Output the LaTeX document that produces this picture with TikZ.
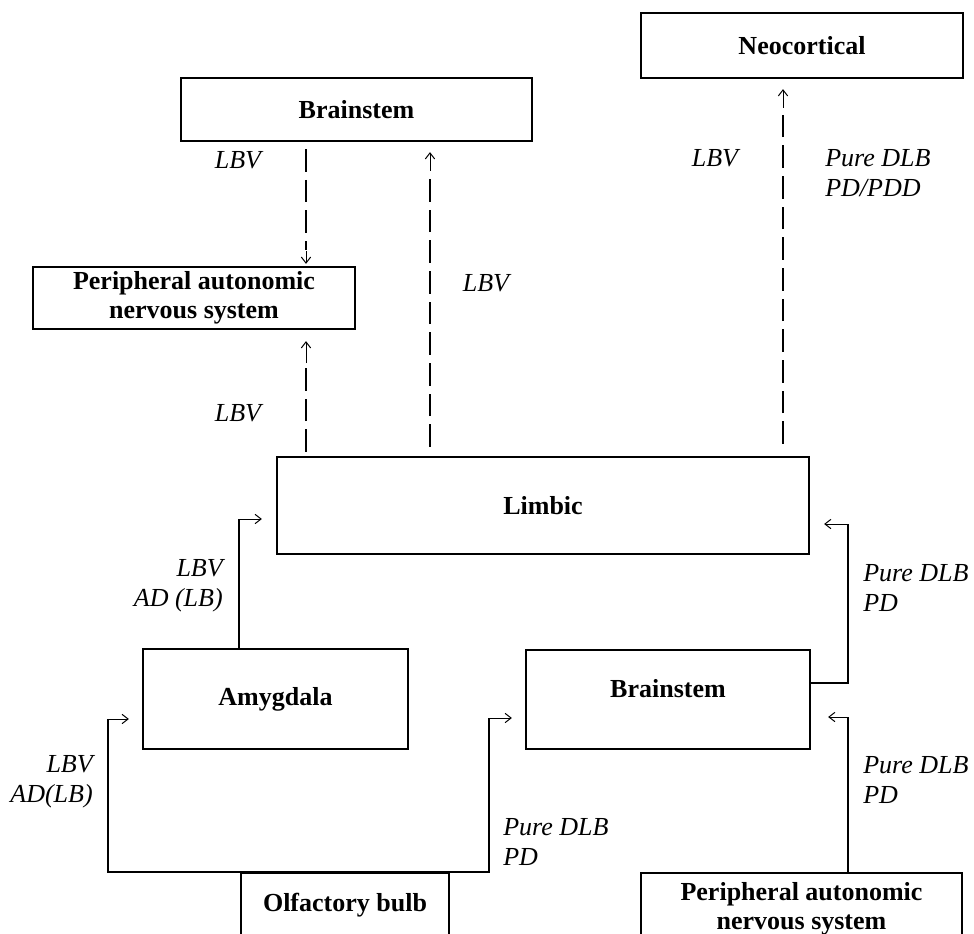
\documentclass[tikz,border=0pt]{standalone}
\usepackage{fontspec}
\setmainfont{Liberation Serif}
\usetikzlibrary{arrows.meta,calc}
\begin{document}
\begin{tikzpicture}[x=0.75pt,y=-0.75pt,
 box/.style={draw, line width=1.7pt, font=\bfseries\fontsize{19.5pt}{22pt}\selectfont, align=center, inner sep=0pt},
 lbl/.style={font=\itshape\fontsize{19.5pt}{22.5pt}\selectfont, inner sep=0pt},
 dashline/.style={line width=1.5pt, dash pattern=on 17pt off 6pt},
 solidline/.style={line width=1.5pt},
 thinarrow/.style={line width=0.75pt, -{Straight Barb[length=4.5pt,width=7pt]}}]
\useasboundingbox (0,0) rectangle (974,934);
\clip (0,0) rectangle (974,934);
% boxes
\node[box, minimum width=241.5pt, minimum height=48.75pt] (neo) at (802,45.5) {Neocortical};
\node[box, minimum width=263.25pt, minimum height=47.25pt] (bs1) at (356.5,109.5) {Brainstem};
\node[box, minimum width=241.5pt, minimum height=46.5pt] (pans1) at (194,298) {Peripheral autonomic\\nervous system};
\node[box, minimum width=399pt, minimum height=72.75pt] (limbic) at (543,505.5) {Limbic};
\node[box, minimum width=198.75pt, minimum height=75pt] (amy) at (275.5,699) {Amygdala};
\node[box, minimum width=213pt, minimum height=74.25pt, text depth=17pt] (bs2) at (668,699.5) {Brainstem};
\node[box, minimum width=156pt, minimum height=65.25pt, text depth=21.75pt] (olf) at (345,916.5) {Olfactory bulb};
\node[box, minimum width=240.75pt, minimum height=54pt] (pans2) at (801.5,909) {Peripheral autonomic\\nervous system};
% dashed connectors
\coordinate (a1) at (306,250);
\draw[dashline] ($(bs1.south -| a1)+(0,7)$) -- (a1);
\draw[thinarrow] ($(a1)+(0,1)$) -- ($(pans1.north -| a1)+(0,-2)$);
\coordinate (a2) at (306,367);
\draw[dashline] ($(limbic.north -| a2)+(0,-4)$) -- (a2);
\draw[thinarrow] ($(a2)+(0,-4)$) -- ($(pans1.south -| a2)+(0,11)$);
\coordinate (a3) at (430,177);
\draw[dashline] ($(limbic.north -| a3)+(0,-9)$) -- (a3);
\draw[thinarrow] ($(a3)+(0,-6)$) -- ($(bs1.south -| a3)+(0,10)$);
\coordinate (a4) at (783,114);
\draw[dashline] ($(limbic.north -| a4)+(0,-12)$) -- (a4);
\draw[thinarrow] ($(a4)+(0,-6)$) -- ($(neo.south -| a4)+(0,10)$);
% solid connectors
\coordinate (b1) at (239,519);
\draw[solidline] (amy.north -| b1) -- (b1);
\draw[thinarrow] (b1) -- ($(limbic.west |- b1)+(-14,0)$);
\coordinate (b2) at (848,524);
\draw[solidline] ($(bs2.east)+(0,-16.5)$) -| (b2);
\draw[thinarrow] (b2) -- ($(limbic.east |- b2)+(14,0)$);
\coordinate (b3) at (108,719);
\coordinate (b4) at (489,718);
\draw[solidline] (b3) |- (olf.north) -| (b4);
\draw[thinarrow] (b3) -- ($(amy.west |- b3)+(-13,0)$);
\draw[thinarrow] (b4) -- ($(bs2.west |- b4)+(-13,0)$);
\coordinate (b5) at (848,717);
\draw[solidline] (pans2.north -| b5) -- (b5);
\draw[thinarrow] (b5) -- ($(bs2.east |- b5)+(17,0)$);
% labels
\node[lbl] (l1) at (238,160) {LBV};
\node[lbl] (l2) at (486,283) {LBV};
\node[lbl] (l3) at (238,413) {LBV};
\node[lbl] (l4) at (715,158) {LBV};
\node[lbl, anchor=west, align=left] (l5) at (825,173) {Pure DLB\\PD/PDD};
\node[lbl, anchor=east, align=right] (l6) at (223,586) {LBV\\AD (LB)};
\node[lbl, anchor=east, align=right] (l7) at (93,782) {LBV\\AD(LB)};
\node[lbl, anchor=west, align=left] (l8) at (863,588) {Pure DLB\\PD};
\node[lbl, anchor=west, align=left] (l9) at (863,780) {Pure DLB\\PD};
\node[lbl, anchor=west, align=left] (l10) at (503,842) {Pure DLB\\PD};
\end{tikzpicture}
\end{document}
